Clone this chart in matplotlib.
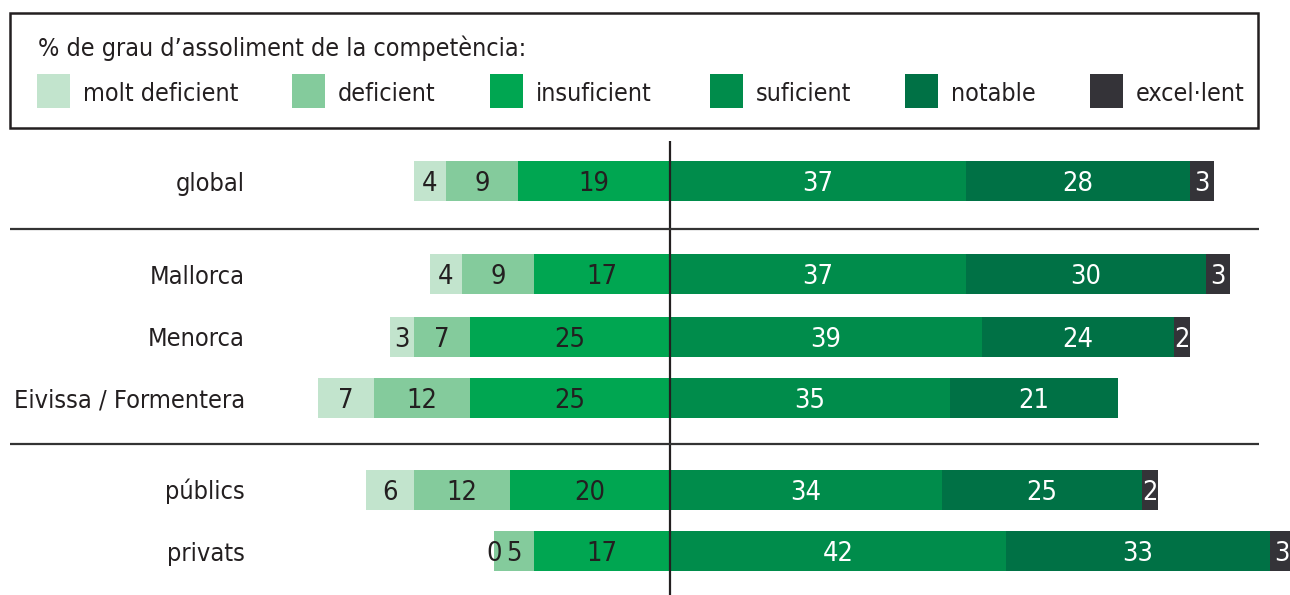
import matplotlib
matplotlib.use("Agg")
import matplotlib.pyplot as plt
import matplotlib.font_manager as fm
from matplotlib.patches import Rectangle

# ---------------- data ----------------
categories = ["global", "Mallorca", "Menorca", "Eivissa / Formentera", "públics", "privats"]
molt_deficient = [4, 4, 3, 7, 6, 0]
deficient = [9, 9, 7, 12, 12, 5]
insuficient = [19, 17, 25, 25, 20, 17]
suficient = [37, 37, 39, 35, 34, 42]
notable = [28, 30, 24, 21, 25, 33]
excellent = [3, 3, 2, None, 2, 3]
series_names = ["molt deficient", "deficient", "insuficient", "suficient", "notable", "excel·lent"]
legend_title = "% de grau d’assoliment de la competència:"

# ---------------- styles ----------------
colors = ["#c2e4cd", "#84cb9c", "#00a651", "#008c4b", "#007145", "#343338"]
text_colors = ["#231f20", "#231f20", "#231f20", "white", "white", "white"]

names = {f.name for f in fm.fontManager.ttflist}
if "Liberation Sans Narrow" in names:
    font_kw = dict(family="Liberation Sans Narrow")
elif any(f.name == "DejaVu Sans" and "condensed" in str(f.stretch) for f in fm.fontManager.ttflist):
    font_kw = dict(family="DejaVu Sans", stretch="condensed")
else:
    font_kw = dict(family="Roboto")
FS_NUM = 19.5
FS_CAT = 18.2
FS_LEG = 18

W, H = 1290, 595
fig = plt.figure(figsize=(W / 100, H / 100), dpi=100)
ax = fig.add_axes([0, 0, 1, 1])
PX = 8.0  # pixels per percentage unit
CX = 670  # pixel x of the zero line
ax.set_xlim(-CX / PX, (W - CX) / PX)
ax.set_ylim(H, 0)  # y in pixel units from top
ax.axis("off")

row_y = [181, 274, 337, 398, 490, 551]
bar_h = 40

left_series = [molt_deficient, deficient, insuficient]
right_series = [suficient, notable, excellent]

for i, cat in enumerate(categories):
    yc = row_y[i]
    lvals = [s[i] for s in left_series]
    total_left = sum(v for v in lvals if v is not None)
    start = -total_left
    for k, v in enumerate(lvals):
        if v is None:
            continue
        ax.barh(yc, v, left=start, height=bar_h, color=colors[k], linewidth=0)
        ax.text(start + v / 2, yc + 10, f"{v}", ha="center", va="baseline",
                color=text_colors[k], fontsize=FS_NUM, **font_kw)
        start += v
    start = 0
    for k, v in enumerate([s[i] for s in right_series]):
        if v is None:
            continue
        ax.barh(yc, v, left=start, height=bar_h, color=colors[k + 3], linewidth=0)
        ax.text(start + v / 2, yc + 10, f"{v}", ha="center", va="baseline",
                color=text_colors[k + 3], fontsize=FS_NUM, **font_kw)
        start += v
    ax.text((245 - CX) / PX, yc + 9.5, cat, ha="right", va="baseline",
            color="#231f20", fontsize=FS_CAT, **font_kw)

# zero line
ax.plot([0, 0], [141, H], color="#231f20", lw=1.6, solid_capstyle="butt")
# separators
for ys in (229, 444):
    ax.plot([(10 - CX) / PX, (1259 - CX) / PX], [ys, ys], color="#333333", lw=1.6,
            solid_capstyle="butt")

# ---------------- legend box (figure pixel coords, top-left origin) ----------------
def fx(px):
    return px / W

def fy(py):
    return 1 - py / H

fig.patches.append(Rectangle((fx(10), fy(128)), fx(1258) - fx(10), fy(13) - fy(128),
                             transform=fig.transFigure, fill=False, edgecolor="#231f20",
                             linewidth=1.8))
fig.text(fx(38), fy(56), legend_title, ha="left", va="baseline", color="#231f20",
         fontsize=FS_LEG, **font_kw)
sq_x = [37, 292, 490, 710, 905, 1090]
for k, name in enumerate(series_names):
    fig.patches.append(Rectangle((fx(sq_x[k]), fy(108)), fx(33), fy(74) - fy(108),
                                 transform=fig.transFigure, facecolor=colors[k],
                                 edgecolor="none"))
    fig.text(fx(sq_x[k] + 46), fy(101), name, ha="left", va="baseline", color="#231f20",
             fontsize=FS_LEG, **font_kw)

fig.savefig("out.png", dpi=100)
